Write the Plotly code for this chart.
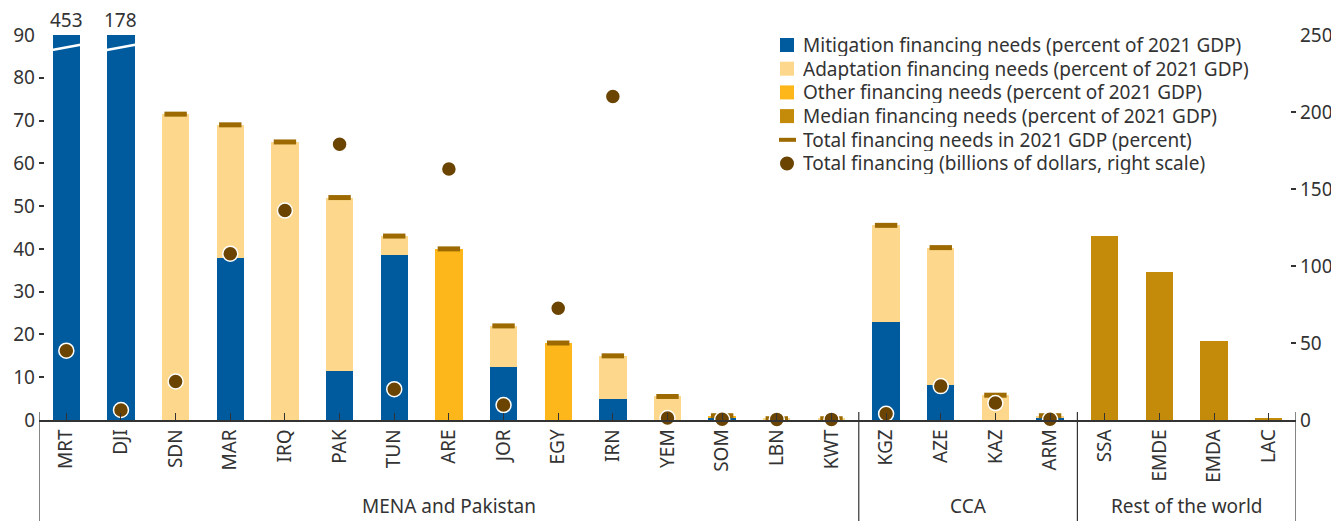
import plotly.graph_objects as go

categories = ["MRT", "DJI", "SDN", "MAR", "IRQ", "PAK", "TUN", "ARE", "JOR", "EGY", "IRN",
              "YEM", "SOM", "LBN", "KWT", "KGZ", "AZE", "KAZ", "ARM", "SSA", "EMDE", "EMDA", "LAC"]
mitigation = [453, 178, 0, 37.9, 0, 11.5, 38.5, 0, 12.5, 0, 4.8,
              0, 0.4, 0, 0, 22.8, 8.2, 0, 0.7, 0, 0, 0, 0]
adaptation = [0, 0, 71.5, 31.1, 65.0, 40.5, 4.5, 0, 9.5, 0, 10.2,
              5.5, 0, 0.3, 0.3, 22.7, 32.1, 5.8, 0.3, 0, 0, 0, 0]
other = [0, 0, 0, 0, 0, 0, 0, 40.0, 0, 18.0, 0,
         0, 0.6, 0, 0, 0, 0, 0, 0, 0, 0, 0, 0]
median = [0, 0, 0, 0, 0, 0, 0, 0, 0, 0, 0,
          0, 0, 0, 0, 0, 0, 0, 0, 43.0, 34.5, 18.5, 0.5]
total_billions = [45, 6.5, 25, 108, 136, 179, 20, 163, 9.7, 72.5, 210,
                  1.3, 0.5, 0.4, 0.4, 4, 22, 11, 0.5, None, None, None, None]
groups = [("MENA and Pakistan", 0, 14), ("CCA", 15, 18), ("Rest of the world", 19, 22)]
legend_labels = ["Mitigation financing needs (percent of 2021 GDP)",
                 "Adaptation financing needs (percent of 2021 GDP)",
                 "Other financing needs (percent of 2021 GDP)",
                 "Median financing needs (percent of 2021 GDP)",
                 "Total financing needs in 2021 GDP (percent)",
                 "Total financing (billions of dollars, right scale)"]

CAP = 90
idx = list(range(len(categories)))
mit_plot = [min(v, CAP) for v in mitigation]
totals = []
for i in idx:
    t = mitigation[i] + adaptation[i] + other[i]
    totals.append(t if (0 < t <= CAP and median[i] == 0) else None)

C_MIT = "#005B9E"
C_ADA = "#FDD78B"
C_OTH = "#FDB71A"
C_MED = "#C48B0B"
C_TOT = "#9C6A00"
C_DOT = "#6A4400"
TXT = "#333333"
FONT = "Noto Sans"
FS = 19

# the page has an 8px body margin, so the figure is sized to fit the window after it
OFF = 8
W, H = 1339 - OFF, 521 - OFF
ML, MR, MT, MB = 39 - OFF, 43, 35 - OFF, 101
PW, PH = W - ML - MR, H - MT - MB


def px(xw):  # window x pixel -> paper
    return (xw - OFF - ML) / PW


def py(yw):  # window y pixel -> paper
    return (H - MB - (yw - OFF)) / PH


fig = go.Figure()
fig.add_bar(x=idx, y=mit_plot, name=legend_labels[0], marker=dict(color=C_MIT, line=dict(width=0)))
fig.add_bar(x=idx, y=adaptation, name=legend_labels[1], marker=dict(color=C_ADA, line=dict(width=0)))
fig.add_bar(x=idx, y=other, name=legend_labels[2], marker=dict(color=C_OTH, line=dict(width=0)))
fig.add_bar(x=idx, y=median, name=legend_labels[3], marker=dict(color=C_MED, line=dict(width=0)))
fig.add_scatter(x=idx, y=totals, mode="markers", name=legend_labels[4],
                marker=dict(symbol="line-ew", size=16, line=dict(color=C_TOT, width=5)),
                cliponaxis=False)
fig.add_scatter(x=idx, y=total_billions, mode="markers", yaxis="y2", name=legend_labels[5],
                marker=dict(symbol="circle", size=15, color=C_DOT, line=dict(color="white", width=1.5)),
                cliponaxis=False)

# broken-bar labels and break lines
for i in idx:
    if mitigation[i] > CAP:
        fig.add_annotation(x=i, y=CAP, text=str(mitigation[i]), showarrow=False, yanchor="bottom",
                           yshift=0, font=dict(size=FS, color=TXT, family=FONT))
        fig.add_shape(type="line", xref="x", yref="y", x0=i - 0.26, x1=i + 0.26, y0=86.5, y1=87.7,
                      line=dict(color="white", width=2.5))

# separators and group labels
for b in [-0.5, 14.5, 18.5, 22.5]:
    fig.add_shape(type="line", xref="x", yref="paper", x0=b, x1=b, y0=py(521), y1=py(420 - 8),
                  line=dict(color=TXT, width=1.2))
for name, a, z in groups:
    fig.add_annotation(x=(a + z) / 2, y=py(521), xref="x", yref="paper", text=name, showarrow=False,
                       yanchor="bottom", font=dict(size=FS, color=TXT, family=FONT))

# hand-drawn legend
lx0, ltext, ly0, lstep = 780, 802, 45, 23.7
sym_colors = [C_MIT, C_ADA, C_OTH, C_MED]
for k, lab in enumerate(legend_labels):
    yc = ly0 + k * lstep
    if k < 4:
        fig.add_shape(type="rect", xref="paper", yref="paper", x0=px(lx0), x1=px(lx0 + 14),
                      y0=py(yc + 7), y1=py(yc - 7), fillcolor=sym_colors[k], line=dict(width=0))
    elif k == 4:
        fig.add_shape(type="rect", xref="paper", yref="paper", x0=px(lx0 - 1), x1=px(lx0 + 16),
                      y0=py(yc + 2), y1=py(yc - 2), fillcolor=C_TOT, line=dict(width=0))
    else:
        fig.add_shape(type="circle", xref="paper", yref="paper", x0=px(lx0), x1=px(lx0 + 14),
                      y0=py(yc + 7), y1=py(yc - 7), fillcolor=C_DOT, line=dict(width=0))
    fig.add_annotation(x=px(ltext), y=py(yc), xref="paper", yref="paper", text=lab, showarrow=False,
                       xanchor="left", yanchor="middle", height=22, borderpad=0, valign="middle",
                       font=dict(size=FS, color=TXT, family=FONT))

fig.update_layout(
    width=W, height=H,
    margin=dict(l=ML, r=MR, t=MT, b=MB, autoexpand=False),
    barmode="stack", bargap=0.5,
    plot_bgcolor="white", paper_bgcolor="white",
    font=dict(family=FONT, size=FS, color=TXT),
    showlegend=False,
    xaxis=dict(tickmode="array", tickvals=idx, ticktext=categories, tickangle=-90,
               range=[-0.5, 22.5], showline=True, linecolor=TXT, linewidth=1.5,
               ticks="inside", tickson="boundaries", ticklen=7, tickcolor=TXT,
               showgrid=False, zeroline=False, tickfont=dict(size=FS), automargin=False),
    yaxis=dict(range=[0, 90], dtick=10, ticks="inside", ticklen=5, tickwidth=1.5, tickcolor=TXT,
               showgrid=False, zeroline=False, showline=False, tickfont=dict(size=FS),
               ticklabelstandoff=3, automargin=False),
    yaxis2=dict(range=[0, 250], dtick=50, overlaying="y", side="right", ticks="inside",
                ticklen=5, tickwidth=1.5, tickcolor=TXT, showgrid=False, zeroline=False,
                showline=False, tickfont=dict(size=FS), ticklabelstandoff=3, automargin=False),
)

fig.write_html("out.html")
